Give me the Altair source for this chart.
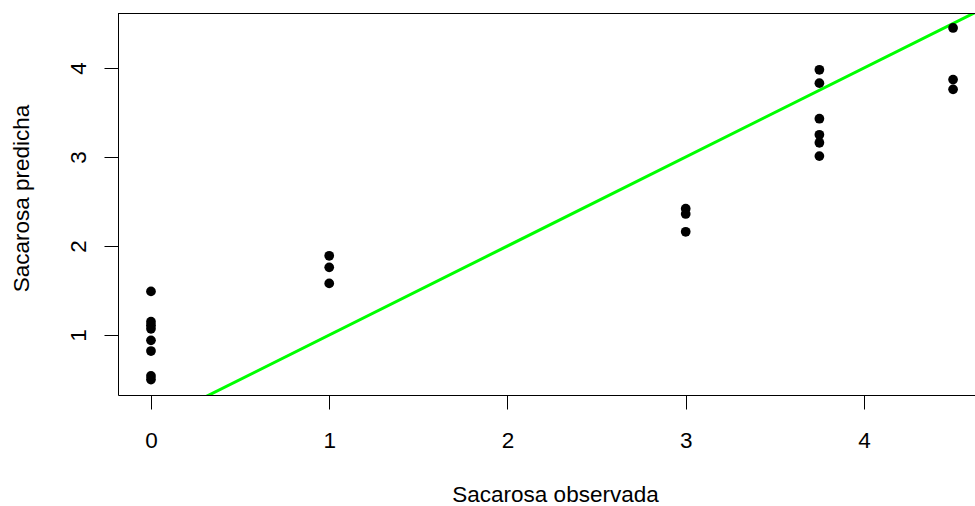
import altair as alt
import pandas as pd

# Observed vs predicted sucrose, grouped by observed level
obs_levels = [0, 1, 3, 3.75, 4.5]
pred_at_0 = [1.49, 1.15, 1.11, 1.07, 0.94, 0.82, 0.54, 0.50]
pred_at_1 = [1.89, 1.76, 1.58]
pred_at_3 = [2.42, 2.36, 2.16]
pred_at_375 = [3.98, 3.83, 3.43, 3.25, 3.16, 3.01]
pred_at_45 = [4.45, 3.87, 3.76]

# Identity reference line (predicted = observed)
ref_x = [0, 5]
ref_y = [0, 5]

groups = [pred_at_0, pred_at_1, pred_at_3, pred_at_375, pred_at_45]
rows = []
for level, preds in zip(obs_levels, groups):
    for p in preds:
        rows.append({"obs": level, "pred": p})
points_df = pd.DataFrame(rows)
line_df = pd.DataFrame({"obs": ref_x, "pred": ref_y})

FONT = "Liberation Sans"
FS = 22.5

x_scale = alt.Scale(domain=[-0.185, 4.623], nice=False, zero=False)
y_scale = alt.Scale(domain=[0.326, 4.618], nice=False, zero=False)

x_enc = alt.X(
    "obs:Q",
    scale=x_scale,
    axis=alt.Axis(
        title="Sacarosa observada",
        values=[0, 1, 2, 3, 4],
        format="d",
        grid=False,
        tickSize=14,
        tickColor="black",
        domainColor="black",
        labelColor="black",
        labelFont=FONT,
        labelFontSize=FS,
        labelBaseline="alphabetic",
        labelPadding=38,
        labelFlush=False,
        titleFont=FONT,
        titleFontSize=FS,
        titleFontWeight="normal",
        titleColor="black",
        titleBaseline="alphabetic",
        titleX=437,
        titleY=106,
        titleAnchor="middle",
    ),
)
y_enc = alt.Y(
    "pred:Q",
    scale=y_scale,
    axis=alt.Axis(
        title="Sacarosa predicha",
        values=[1, 2, 3, 4],
        format="d",
        grid=False,
        tickSize=14,
        tickColor="black",
        domainColor="black",
        labelColor="black",
        labelFont=FONT,
        labelFontSize=FS,
        labelAngle=270,
        labelAlign="center",
        labelBaseline="alphabetic",
        labelPadding=19,
        labelFlush=False,
        titleFont=FONT,
        titleFontSize=FS,
        titleFontWeight="normal",
        titleColor="black",
        titleAngle=270,
        titleAlign="center",
        titleBaseline="alphabetic",
        titleX=-90,
        titleY=185,
    ),
)

ref_line = alt.Chart(line_df).mark_line(
    color="#00ff00", strokeWidth=3, clip=True
).encode(x=x_enc, y=y_enc)

dots = alt.Chart(points_df).mark_circle(
    color="black", opacity=1, size=95, clip=True
).encode(x="obs:Q", y="pred:Q")

top_border = alt.Chart(line_df).mark_rule(color="black", strokeWidth=1).encode(
    x=alt.value(0), x2=alt.value(857), y=alt.value(0.5)
)

chart = (
    alt.layer(ref_line, dots, top_border)
    .properties(
        width=857,
        height=382,
        padding={"left": 118, "top": 13, "right": 0, "bottom": 111},
        autosize=alt.AutoSizeParams(type="none"),
        background="white",
    )
    .configure_view(stroke=None)
)

chart.save("out.html", embed_options={"renderer": "svg", "actions": False})
